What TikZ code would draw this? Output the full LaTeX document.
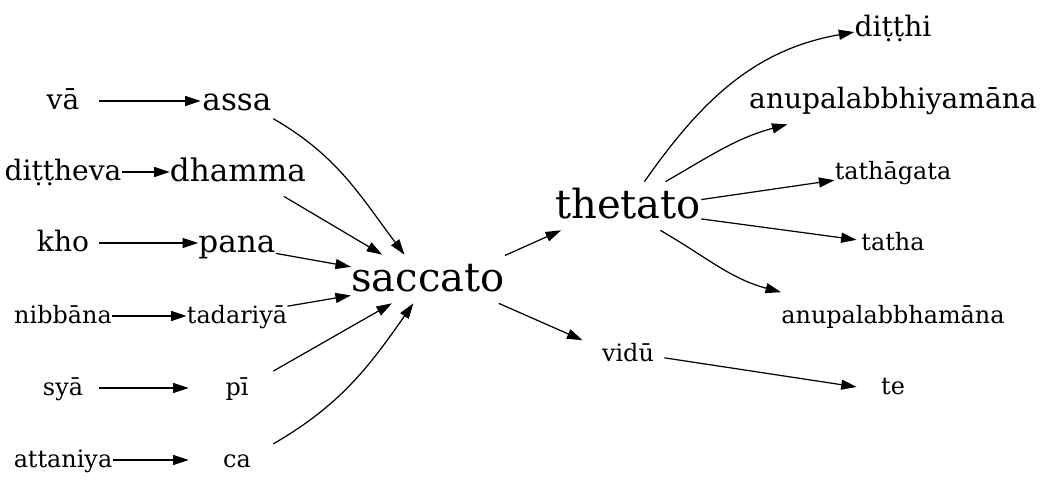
\documentclass[tikz,border=0pt]{standalone}
\usepackage{fontspec}
\setmainfont{DejaVu Serif}
\usepackage{tikz}
\usetikzlibrary{arrows.meta}

\begin{document}
\begin{tikzpicture}[
  word/.style={inner sep=0pt, minimum height=0.96cm, minimum width=1.44cm},
  xl/.style={word, font=\fontsize{22.8}{27}\selectfont, text height=17.5pt, text depth=3.7pt},
  lg/.style={word, font=\fontsize{17.7}{21}\selectfont, text height=13.7pt, text depth=2.8pt},
  md/.style={word, font=\fontsize{16}{19}\selectfont, text height=12.5pt, text depth=2.5pt},
  sm/.style={word, font=\fontsize{13.6}{16}\selectfont, text height=10.8pt, text depth=1.9pt},
  edge/.style={->, >={Triangle[length=0.31cm, width=0.2cm]}, line width=0.7pt}
]
\useasboundingbox (0,0) rectangle (20.88,9.82);

% first rank
\node[md] (va) at (1.26,7.80) {vā};
\node[md] (dittheva) at (1.26,6.38) {diṭṭheva};
\node[md] (kho) at (1.26,4.96) {kho};
\node[sm] (nibbana) at (1.26,3.50) {nibbāna};
\node[sm] (sya) at (1.26,2.06) {syā};
\node[sm] (attaniya) at (1.26,0.62) {attaniya};

% second rank
\node[lg] (assa) at (4.74,7.80) {assa};
\node[lg] (dhamma) at (4.76,6.38) {dhamma};
\node[lg] (pana) at (4.74,4.96) {pana};
\node[sm] (tadariya) at (4.74,3.50) {tadariyā};
\node[sm] (pi) at (4.74,2.06) {pī};
\node[sm] (ca) at (4.74,0.62) {ca};

% middle
\node[xl] (saccato) at (8.56,4.24) {saccato};
\node[xl] (thetato) at (12.56,5.70) {thetato};
\node[sm] (vidu) at (12.56,2.74) {vidū};

% last rank
\node[md] (ditthi) at (17.86,9.26) {diṭṭhi};
\node[md] (anupalabbhiyamana) at (17.86,7.82) {anupalabbhiyamāna};
\node[sm] (tathagata) at (17.86,6.38) {tathāgata};
\node[sm] (tatha) at (17.86,4.96) {tatha};
\node[sm] (anupalabbhamana) at (17.86,3.50) {anupalabbhamāna};
\node[sm] (te) at (17.86,2.08) {te};

\draw[edge] (va) -- (assa);
\draw[edge] (dittheva) -- (dhamma);
\draw[edge] (kho) -- (pana);
\draw[edge] (nibbana) -- (tadariya);
\draw[edge, shorten >=0.24cm] (sya) -- (pi);
\draw[edge, shorten >=0.24cm] (attaniya) -- (ca);

\draw[edge] (assa.-26) to[out=-30, in=127] (saccato.134);
\draw[edge] (dhamma.-28) -- (saccato.152);
\draw[edge] (pana.-15) -- (saccato.171);
\draw[edge] (tadariya.11) -- (saccato.192);
\draw[edge] (pi.25) -- (saccato.214);
\draw[edge] (ca.24) to[out=30, in=-125] (saccato.239);

\draw[edge] (saccato.17) -- (thetato.200);
\draw[edge, shorten >=0.2cm] (saccato.-19) -- (vidu.165);

\draw[edge] (thetato.56) to[out=55, in=190] (ditthi.186);
\draw[edge] (thetato.33) to[out=30, in=195] (anupalabbhiyamana.193);
\draw[edge] (thetato.5) -- (tathagata.188);
\draw[edge] (thetato.-10) -- (tatha.175);
\draw[edge] (thetato.-37) to[out=-30, in=165] (anupalabbhamana.168);
\draw[edge] (vidu.-6) -- (te.west);
\end{tikzpicture}
\end{document}
